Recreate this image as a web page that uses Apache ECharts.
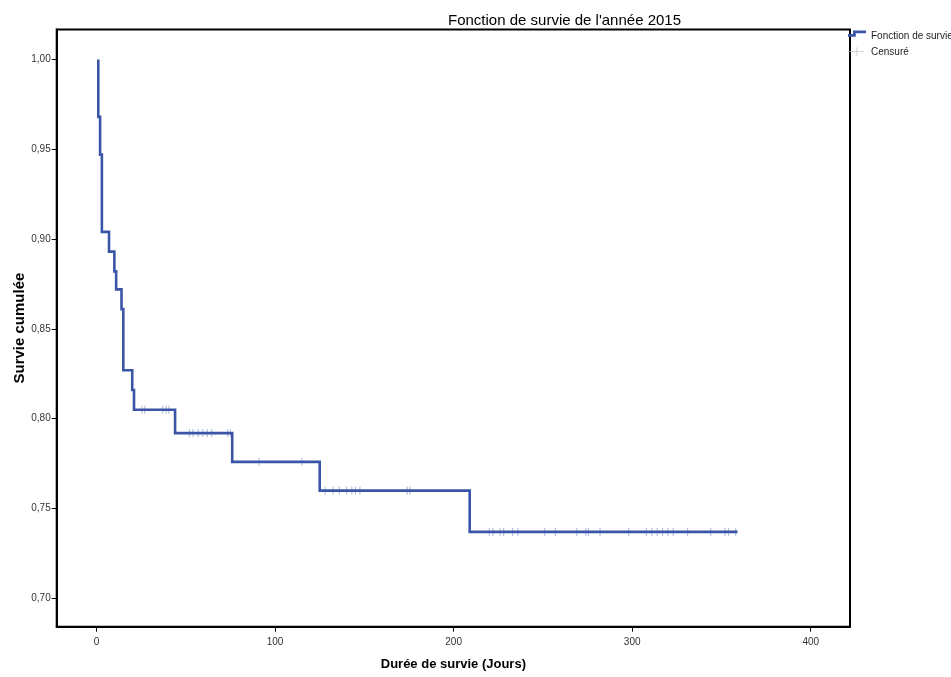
<!DOCTYPE html>
<html>
<head>
<meta charset="utf-8">
<title>Fonction de survie de l'année 2015</title>
<script src="https://cdn.jsdelivr.net/npm/echarts@6/dist/echarts.min.js"></script>
<style>
  html, body { margin: 0; padding: 0; background: #ffffff; }
  #chart { width: 951px; height: 677px; }
</style>
</head>
<body>
<div id="chart"></div>
<script>
// Kaplan-Meier curve: day of each step and cumulative survival after it
const stepDays = [1, 1, 2, 3, 7, 10, 11, 14, 15, 20, 21, 44, 76, 125, 209, 359];
const survival = [1.000, 0.968, 0.947, 0.904, 0.893, 0.882, 0.872, 0.861, 0.827, 0.816, 0.805, 0.792, 0.776, 0.760, 0.737, 0.737];

// Days of censored observations (marked on the curve)
const censorDays = [25.5, 27, 37, 39, 40.5, 52, 54, 57, 59.5, 62, 64.5, 73.5, 75, 91, 115,
  128, 132.5, 136, 140, 143, 145, 147.5, 174, 175.5,
  220, 222, 226, 228, 233, 236, 251, 257, 269, 274, 275.5, 282, 298, 308, 311, 314, 317,
  320, 323, 331, 344, 352, 354, 358];

// Axis ticks
const xTicks = [0, 100, 200, 300, 400];
const yTicks = [0.70, 0.75, 0.80, 0.85, 0.90, 0.95, 1.00];
const yTickLabels = ['0,70', '0,75', '0,80', '0,85', '0,90', '0,95', '1,00'];

const FONT = '"Liberation Sans", Arial, sans-serif';
const LINE_COLOR = '#3a55a7';

// survival level of the curve at a given day
function survivalAt(day) {
  let s = survival[0];
  for (let i = 0; i < stepDays.length; i++) {
    if (stepDays[i] <= day) s = survival[i];
  }
  return s;
}

// Step path in data space: hold each level until the next event day, then drop
const stepPath = [];
stepDays.forEach((d, i) => {
  if (i > 0) stepPath.push([d, survival[i - 1]]);
  stepPath.push([d, survival[i]]);
});

const censorData = censorDays.map(d => [d, survivalAt(d)]);

const chart = echarts.init(document.getElementById('chart'), null, { renderer: 'canvas' });

chart.setOption({
  backgroundColor: '#ffffff',
  animation: false,
  textStyle: { fontFamily: FONT },
  title: {
    text: "Fonction de survie de l'année 2015",
    left: 443,
    top: 8,
    textStyle: { fontFamily: FONT, fontSize: 15, fontWeight: 'normal', color: '#000' }
  },
  legend: {
    orient: 'vertical',
    left: 848,
    top: 29,
    itemWidth: 18,
    itemHeight: 14,
    itemGap: 1.8,
    padding: 0,
    symbolKeepAspect: false,
    selectedMode: false,
    textStyle: { fontFamily: FONT, fontSize: 10, color: '#222' },
    data: [
      {
        name: 'Fonction de survie',
        // step glyph, with zero-area anchors keeping the 18x14 box
        icon: 'path://M18,0L17.99,0L18,0.01ZM0,5L5,5L5,1.5L18,1.5L18,4.3L7.8,4.3L7.8,7.8L0,7.8ZM0,14L0.01,14L0,13.99Z',
        itemStyle: { color: LINE_COLOR, borderWidth: 0, borderColor: 'transparent' }
      },
      {
        name: 'Censuré',
        icon: 'path://M0,0L0.01,0L0,0.01ZM0,6.5L8.5,6.5L8.5,2.5L9.3,2.5L9.3,6.5L16,6.5L16,7.3L9.3,7.3L9.3,11.5L8.5,11.5L8.5,7.3L0,7.3ZM18,14L17.99,14L18,13.99Z',
        itemStyle: { color: '#b8b8b8', borderWidth: 0, borderColor: 'transparent' }
      }
    ]
  },
  grid: {
    left: 56.7,
    top: 29.5,
    right: 101,
    bottom: 50.3,
    show: true,
    borderColor: '#000',
    borderWidth: 2,
    backgroundColor: '#ffffff',
    outerBoundsMode: 'none',
    containLabel: false
  },
  xAxis: {
    type: 'value',
    min: -22.3,
    max: 422,
    name: 'Durée de survie (Jours)',
    nameLocation: 'middle',
    nameGap: 31,
    nameMoveOverlap: false,
    nameTextStyle: { fontFamily: FONT, fontSize: 13, fontWeight: 'bold', color: '#000' },
    axisLine: { show: true, onZero: false, lineStyle: { color: '#000', width: 2 } },
    axisTick: { show: true, inside: false, customValues: xTicks, length: 5, lineStyle: { color: '#000', width: 1 } },
    axisLabel: { customValues: xTicks, margin: 11, fontSize: 10, color: '#333', fontFamily: FONT },
    splitLine: { show: false }
  },
  yAxis: {
    type: 'value',
    min: 0.68425,
    max: 1.01664,
    name: 'Survie cumulée',
    nameLocation: 'middle',
    nameRotate: 90,
    nameGap: 29,
    nameMoveOverlap: false,
    nameTextStyle: { fontFamily: FONT, fontSize: 15, fontWeight: 'bold', color: '#000' },
    axisLine: { show: true, onZero: false, lineStyle: { color: '#000', width: 2 } },
    axisTick: { show: true, inside: false, customValues: yTicks, length: 5, lineStyle: { color: '#000', width: 1 } },
    axisLabel: {
      customValues: yTicks,
      margin: 6,
      fontSize: 10,
      color: '#333',
      fontFamily: FONT,
      formatter: function (v) {
        const i = yTicks.findIndex(t => Math.abs(t - v) < 1e-6);
        return i >= 0 ? yTickLabels[i] : '';
      }
    },
    splitLine: { show: false }
  },
  series: [
    {
      name: 'Censuré',
      type: 'scatter',
      data: censorData,
      symbol: 'path://M0,0L1,0L1,10L0,10Z',
      symbolSize: [1.2, 8],
      itemStyle: { color: 'rgba(105,125,190,0.6)' },
      silent: true,
      z: 2
    },
    {
      name: 'Fonction de survie',
      type: 'lines',
      coordinateSystem: 'cartesian2d',
      polyline: true,
      data: [{ coords: stepPath }],
      color: LINE_COLOR,
      lineStyle: { color: LINE_COLOR, width: 2.6, opacity: 1, curveness: 0, join: 'miter' },
      silent: true,
      z: 3
    }
  ]
});
</script>
</body>
</html>
